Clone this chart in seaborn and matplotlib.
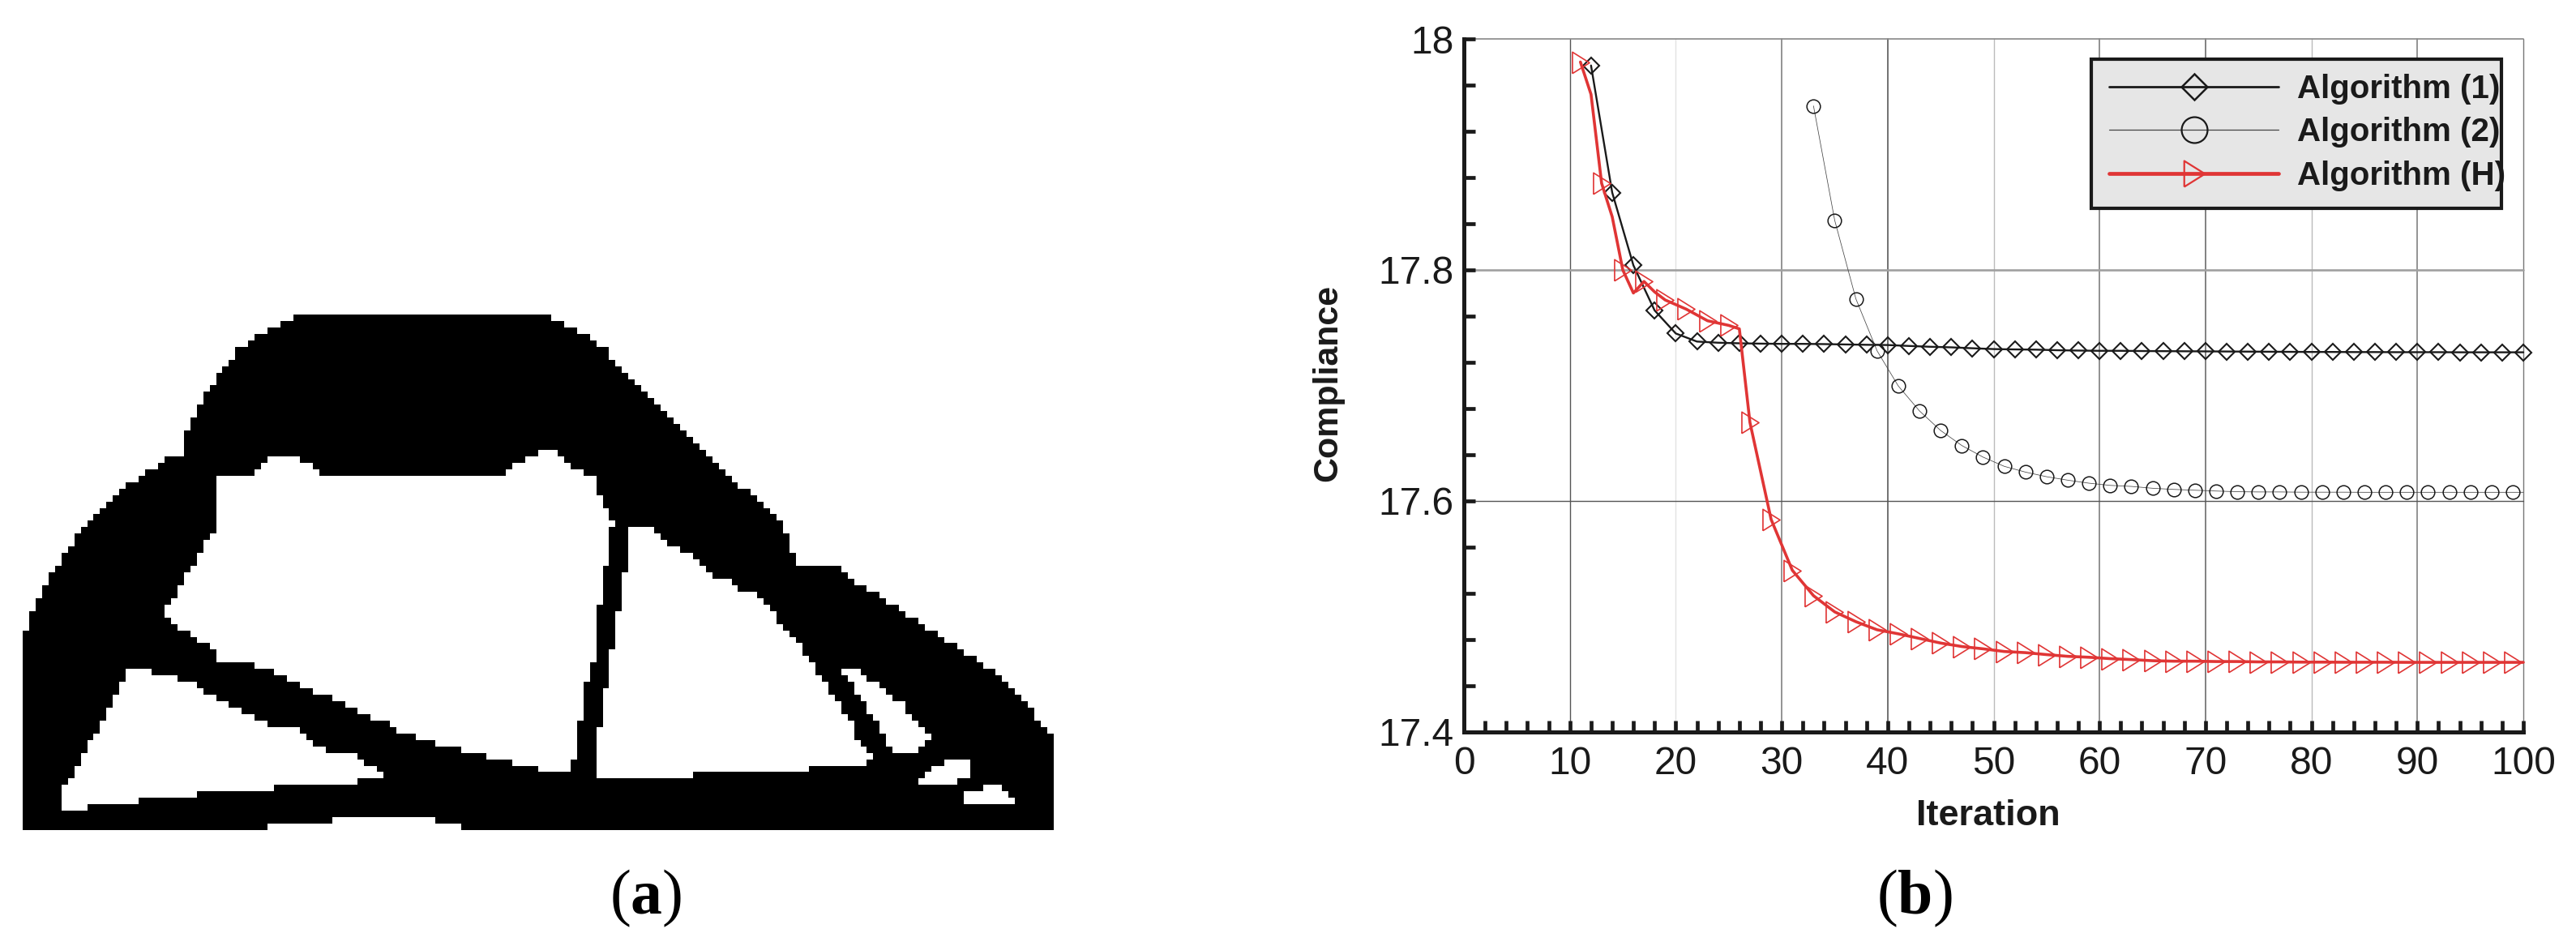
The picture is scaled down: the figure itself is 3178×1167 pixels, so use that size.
import numpy as np
import matplotlib
matplotlib.use("Agg")
import matplotlib.pyplot as plt
from matplotlib.lines import Line2D
from matplotlib.patches import Rectangle
from matplotlib.path import Path
from matplotlib.ticker import MultipleLocator
import seaborn as sns

W, H = 3178, 1167
INK = "#1a1a1a"

# ---------- panel (a): outline of the 160 x 80 design, in cell units ----------
n_cols, n_rows = 160, 80
outer = [(0,80),(0,50),(1,48),(2,45),(3,43),(4,41),(5,40),(6,38),(7,37),(8,35),(9,34),(10,33),(11,32),(12,31),
 (13,30),(14,29),(15,28),(16,27),(17,26),(19,25),(20,24),(22,23),(23,22),(25,22),(25,20),(26,17),(27,15),(28,13),
 (29,12),(30,10),(33,6),(34,5),(36,4),(37,3),(39,2),(41,1),(43,0),(81,0),(83,1),(85,2),(87,3),(88,4),(90,5),(91,6),
 (92,8),(94,10),(96,12),(98,14),(100,16),(102,18),(103,19),(105,21),(107,23),(109,25),(112,27),(114,29),(116,31),
 (118,33),(119,35),(120,39),(126,39),(128,41),(132,43),(135,45),(138,47),(141,49),(144,51),(147,53),(150,55),
 (152,57),(154,59),(157,62),(158,64),(160,66),(160,80),(68,80),(68,79),(64,79),(64,78),(48,78),(48,79),(38,79),(38,80)]
hole_centre = [(30,25),(36,25),(36,24),(38,23),(39,22),(42,22),(44,23),(46,24),(46,25),(75,25),(75,24),(77,23),(79,22),
 (81,21),(83,21),(84,23),(85,24),(89,25),(89,27),(90,29),(91,31),(92,33),(91,33),(91,39),(90,39),(90,45),(89,45),
 (89,54),(88,54),(88,57),(87,57),(87,63),(86,63),(86,69),(85,69),(85,71),(80,71),(80,70),(76,70),(76,69),(72,69),
 (72,68),(68,68),(68,67),(64,67),(64,66),(61,66),(61,65),(58,65),(58,64),(56,63),(53,62),(51,61),(49,60),(47,59),
 (44,58),(42,57),(40,56),(38,55),(35,54),(30,54),(30,52),(28,51),(27,50),(25,49),(24,48),(23,47),(22,46),(23,45),
 (24,43),(25,41),(26,40),(27,38),(28,36),(29,34),(30,34)]
hole_right = [(94,34),(95,33),(97,33),(99,34),(100,36),(103,37),(106,39),(107,41),(109,41),(111,43),(113,43),(114,44),
 (116,45),(117,48),(119,50),(121,51),(121,53),(123,54),(123,56),(125,57),(125,59),(127,60),(127,62),(129,64),(129,65),
 (130,67),(132,68),(131,69),(131,70),(122,70),(122,71),(104,71),(104,72),(89,72),(89,64),(90,64),(90,58),(91,58),
 (91,52),(92,52),(92,46),(93,46),(93,40),(94,40)]
hole_sliver = [(127,55),(129,55),(130,56),(132,57),(133,58),(136,60),(137,61),(138,63),(141,65),(140,66),(138,68),
 (135,68),(134,66),(133,64),(131,61),(129,58),(128,56)]
hole_small1 = [(139,73),(139,72),(142,70),(144,69),(147,69),(147,71),(146,72),(143,73)]
hole_small2 = [(146,76),(146,74),(149,74),(149,73),(152,73),(153,75),(154,75),(154,76)]
hole_left = [(6,77),(6,73),(7,73),(8,72),(9,69),(10,67),(11,66),(12,64),(13,62),(14,60),(15,58),(16,56),(17,55),(20,55),
 (20,56),(24,56),(24,57),(27,57),(27,58),(29,59),(31,60),(33,61),(35,62),(37,63),(39,64),(42,64),(44,66),(46,67),
 (48,68),(51,68),(53,69),(53,70),(55,70),(55,71),(56,72),(52,72),(52,73),(39,73),(39,74),(27,74),(27,75),(18,75),
 (18,76),(10,76),(10,77)]
holes = [hole_centre, hole_right, hole_sliver, hole_small1, hole_small2, hole_left]

# ---------- panel (b): compliance histories ----------
iter_1 = np.arange(12, 101, 2)
compliance_1 = [17.977,17.867,17.804,17.765,17.745,17.738,17.737,17.7365,17.7362,17.736,17.736,17.7358,17.7355,
 17.7352,17.735,17.7342,17.7335,17.733,17.7322,17.7315,17.7312,17.731,17.7305,17.7302,17.730,17.730,17.7298,
 17.7297,17.7296,17.7295,17.7294,17.7293,17.7292,17.7291,17.729,17.729,17.7289,17.7289,17.7288,17.7288,17.7288,
 17.7287,17.7287,17.7287,17.7287]

iter_2 = list(range(33, 100, 2)) + [100]
compliance_2 = [17.942,17.843,17.775,17.730,17.6996,17.678,17.661,17.648,17.638,17.630,17.625,17.621,17.618,17.6154,
 17.6135,17.6126,17.611,17.610,17.6093,17.6086,17.608,17.6078,17.6078,17.6076,17.6076,17.6076,17.6075,17.6075,
 17.6075,17.6075,17.6075,17.6075,17.6075,17.6075,17.6075]

iter_h = [11,12,13,14,15,16,17,18,19,21,23,25,26] + list(range(27, 100, 2)) + [100]
compliance_h = [17.980,17.952,17.875,17.846,17.800,17.780,17.790,17.781,17.774,17.766,17.756,17.752,17.749,
 17.668,17.584,17.540,17.518,17.504,17.4955,17.4885,17.485,17.481,17.477,17.474,17.472,17.4697,17.4687,17.467,
 17.4655,17.4647,17.4635,17.4627,17.4617,17.4613,17.4613,17.461,17.461,17.4607,17.4607,17.4605,17.4605,17.4604,
 17.4604,17.4604,17.4603,17.4603,17.4603,17.4603,17.4603,17.4603,17.4603]

x_ticks_major = list(range(0, 101, 10))
y_ticks_major = [17.4, 17.6, 17.8, 18.0]
series_labels = ["Algorithm (1)", "Algorithm (2)", "Algorithm (H)"]

sns.set_theme(style="white")
plt.rcParams["font.family"] = ["Liberation Sans", "DejaVu Sans"]
plt.rcParams["mathtext.fontset"] = "custom"
plt.rcParams["mathtext.rm"] = "Liberation Serif"
plt.rcParams["mathtext.bf"] = "Liberation Serif:bold"

fig = plt.figure(figsize=(W / 100, H / 100), dpi=100, facecolor="white")

def place(l, t, r, b):
    return fig.add_axes([l / W, 1 - b / H, (r - l) / W, (b - t) / H])

# ---------- (a) ----------
ax_a = place(28, 388, 1300, 1024)
cc, rr = np.meshgrid(np.arange(n_cols) + 0.5, np.arange(n_rows) + 0.5)
centres = np.column_stack([cc.ravel(), rr.ravel()])
solid = Path(outer, closed=False).contains_points(centres)
for hole in holes:
    solid &= ~Path(hole, closed=False).contains_points(centres)
grid = solid.reshape(n_rows, n_cols).astype(float)
sns.heatmap(grid, ax=ax_a, cmap=["white", "black"], vmin=0, vmax=1, cbar=False,
            xticklabels=False, yticklabels=False, rasterized=True)

# ---------- (b) ----------
XL, XR, YT, YB = 1806, 3113, 48, 903
ax = place(XL, YT, XR, YB)
triangle = [(-0.8, -1), (0.8, 0), (-0.8, 1), (-0.8, -1)]
RED = "#e03535"

sns.lineplot(x=iter_1, y=compliance_1, ax=ax, color=INK, lw=1.7, marker="D", ms=10,
             mfc="none", mec=INK, mew=1.5, clip_on=False, zorder=3, errorbar=None)
sns.lineplot(x=iter_2, y=compliance_2, ax=ax, color="#444444", lw=0.55, marker="o", ms=12,
             mfc="none", mec=INK, mew=1.1, markevery=slice(0, -1), clip_on=False, zorder=3, errorbar=None)
odd_idx = [i for i, v in enumerate(iter_h) if v % 2 == 1]
sns.lineplot(x=iter_h, y=compliance_h, ax=ax, color=RED, lw=2.6, marker=triangle, ms=19,
             mfc="none", mec=RED, mew=1.2, markevery=odd_idx, clip_on=False, zorder=3, errorbar=None)

ax.set_xlim(0, 100)
ax.set_ylim(17.4, 18.0)
ax.set_xticks(x_ticks_major)
ax.set_yticks(y_ticks_major)
ax.set_yticklabels(["17.4", "17.6", "17.8", "18"])
ax.xaxis.set_minor_locator(MultipleLocator(2))
ax.yaxis.set_minor_locator(MultipleLocator(0.04))
for axis, pad in ((ax.xaxis, 12), (ax.yaxis, 9)):
    axis.set_tick_params(which="both", direction="in", length=10, width=3.4, color=INK, left=True, bottom=True)
    axis.set_tick_params(which="major", labelsize=34.5, labelcolor=INK, pad=pad)

ax.grid(True, which="major", zorder=1)
ax.set_axisbelow(True)
x_grid_style = [(None, 0), ("#555555", 1.0), ("#e2e2e2", 1.0), ("#777777", 1.1), ("#666666", 1.3), ("#bbbbbb", 1.0),
                ("#888888", 1.3), ("#777777", 1.3), ("#bbbbbb", 1.0), ("#777777", 1.1), ("#777777", 1.0)]
for gl, (c, w) in zip(ax.get_xgridlines(), x_grid_style):
    gl.set_color(c or "none")
    gl.set_linewidth(w)
    gl.set_clip_on(False)
y_grid_style = [(None, 0), ("#555555", 1.0), ("#a0a0a0", 1.9), ("#888888", 1.2)]
for gl, (c, w) in zip(ax.get_ygridlines(), y_grid_style):
    gl.set_color(c or "none")
    gl.set_linewidth(w)
    gl.set_clip_on(False)

for side in ("top", "right"):
    ax.spines[side].set_visible(False)
for side in ("left", "bottom"):
    ax.spines[side].set_linewidth(3.6)
    ax.spines[side].set_color(INK)

ax.set_xlabel("Iteration", fontsize=32.5, fontweight="bold", color=INK)
ax.set_ylabel("Compliance", fontsize=31, fontweight="bold", color=INK)
ax.xaxis.set_label_coords((2453 - XL) / (XR - XL), (YB - 1007) / (YB - YT), transform=ax.transAxes)
ax.xaxis.label.set_verticalalignment("center")
ax.yaxis.set_label_coords((1638 - XL) / (XR - XL), (YB - 472) / (YB - YT), transform=ax.transAxes)
ax.yaxis.label.set_verticalalignment("center")

# legend frame is fixed; labels overrun it slightly, as in the reference
ax.add_patch(Rectangle(((2580 - XL) / (XR - XL), (YB - 257) / (YB - YT)), 506 / (XR - XL), 184 / (YB - YT),
                       transform=ax.transAxes, fc="#e6e6e6", ec=INK, lw=3, zorder=4))
handles = [
    Line2D([], [], color=INK, lw=2, marker="D", ms=16, mfc="none", mec=INK, mew=1.8),
    Line2D([], [], color="#444444", lw=0.9, marker="o", ms=23, mfc="none", mec=INK, mew=1.6),
    Line2D([], [], color=RED, lw=3.4, marker=triangle, ms=23, mfc="none", mec=RED, mew=1.6),
]
leg = ax.legend(handles, series_labels, loc="upper left", frameon=False, numpoints=1,
                bbox_to_anchor=((2602 - XL) / (XR - XL), (YB - 91) / (YB - YT)), borderaxespad=0, borderpad=0,
                handlelength=5.2, handletextpad=0.55, labelspacing=0.38,
                prop={"size": 29, "weight": "bold", "family": "Liberation Sans"})
leg.set_zorder(5)
for t in leg.get_texts():
    t.set_color(INK)

# ---------- captions ----------
fig.text(797 / W, 1 - 1108 / H, r"$\mathrm{(}\mathbf{a}\mathrm{)}$", fontsize=56, ha="center", va="center", color="black")
fig.text(2362 / W, 1 - 1108 / H, r"$\mathrm{(}\mathbf{b}\mathrm{)}$", fontsize=56, ha="center", va="center", color="black")

fig.savefig("out.png", dpi=100, facecolor="white")
